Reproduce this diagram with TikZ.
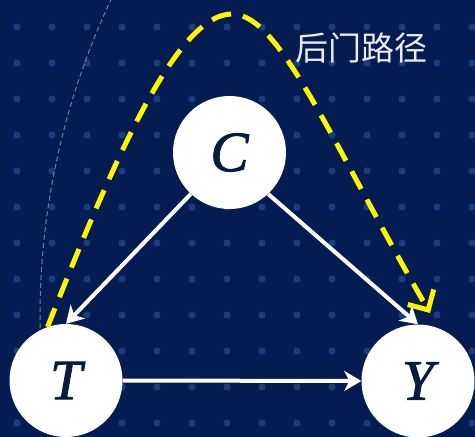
\documentclass[tikz,border=0pt]{standalone}
\usepackage{fontspec}
\newfontfamily\cjk{Noto Sans CJK SC}
\newfontfamily\varfont[FakeBold=1.6]{Liberation Serif}
\usetikzlibrary{arrows.meta}
\definecolor{bgnavy}{RGB}{4,28,82}
\definecolor{dotblue}{RGB}{24,62,128}
\definecolor{ink}{RGB}{8,28,66}
\definecolor{arcgray}{RGB}{100,130,160}
\definecolor{pathyellow}{RGB}{255,245,0}
\definecolor{labelgray}{RGB}{235,235,240}
\begin{document}
\begin{tikzpicture}[x=1pt,y=-1pt,
  var/.style={circle, fill=white, minimum size=113pt, inner sep=0pt, text=ink, font=\varfont\itshape\fontsize{57}{57}\selectfont},
  causal/.style={white, line width=4pt, -{Stealth[length=17pt,width=20pt,inset=5pt]}},
  backdoor/.style={pathyellow, line width=5pt, dash pattern=on 20pt off 12pt, -{Straight Barb[length=15pt,width=30pt,line width=5pt]}},
  bgarc/.style={arcgray, line width=1pt, dash pattern=on 5pt off 3pt}]
\useasboundingbox (0,0) rectangle (475,437);
\clip (0,0) rectangle (475,437);
\fill[bgnavy] (0,0) rectangle (475,437);
\foreach \i in {0,...,13} {
  \foreach \j in {0,...,11} {
    \fill[dotblue] (17+35*\i, 27+36*\j) circle[radius=3.6];
  }
}
\draw[bgarc] (785,317) ++(173:745) arc[start angle=173,end angle=208,radius=745];
\node[var] (C) at (229.5,152.5) {C};
\node[var] (T) at (66,380.5) {T};
\node[var] (Y) at (418,381) {Y};
\draw[causal] (C.-133) -- (T.north);
\draw[causal] (C.-47) -- (Y.north);
\draw[causal] (T.east) -- (Y.west);
\coordinate (Ytip) at (430,313);
\draw[backdoor] (T.109) .. controls (110,170) and (175,14) .. (232,14) .. controls (280,14) and (330,140) .. (Ytip);
\node[text=labelgray, font=\cjk\fontsize{33}{33}\selectfont] (lbl) at (361,48) {后门路径};
\end{tikzpicture}
\end{document}
